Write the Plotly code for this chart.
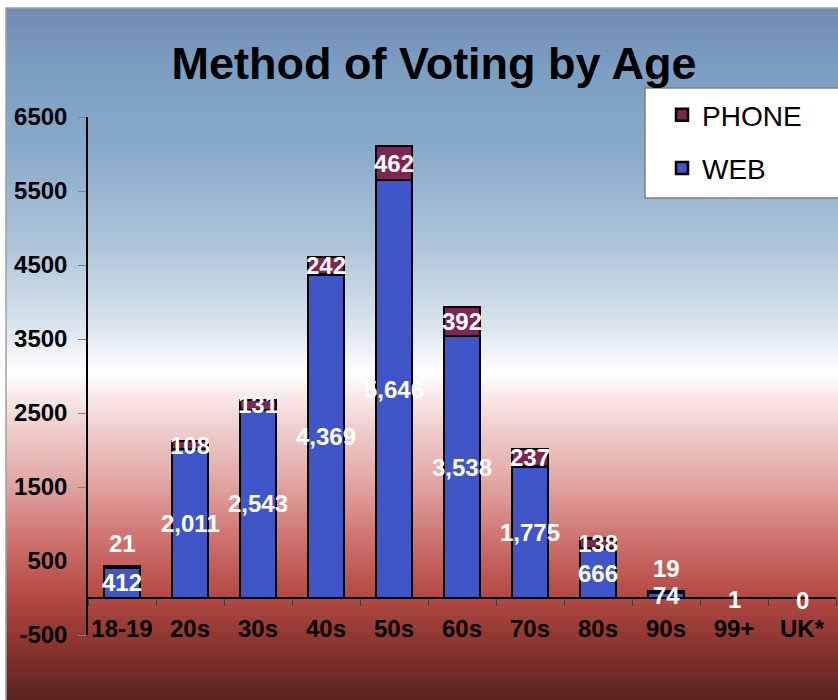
import plotly.graph_objects as go

# ---- data ----
categories = ["18-19", "20s", "30s", "40s", "50s", "60s", "70s", "80s", "90s", "99+", "UK*"]
web_votes = [412, 2011, 2543, 4369, 5646, 3538, 1775, 666, 74, 1, 0]
phone_votes = [21, 108, 131, 242, 462, 392, 237, 138, 19, 0, 0]
y_tick_values = [-500, 500, 1500, 2500, 3500, 4500, 5500, 6500]

# ---- layout geometry (pixels) ----
W, H = 838, 700
ML, MR, MT, MB = 88, 2, 117, 65
PW, PH = W - ML - MR, H - MT - MB
Y_MIN, Y_MAX = -500, 6500

def px_x(px):
    return (px - ML) / PW

def px_y(py):
    return (H - MB - py) / PH

FONT = "Liberation Sans, Arial, sans-serif"
WEB_COLOR = "#3f55c8"
PHONE_COLOR = "#7d2553"

fig = go.Figure()
fig.add_trace(go.Bar(
    x=categories, y=web_votes, name="WEB", legendgroup="web", legendrank=2,
    marker=dict(color=WEB_COLOR, line=dict(color="black", width=2.5)),
    width=0.53, hoverinfo="skip",
))
fig.add_trace(go.Bar(
    x=categories, y=phone_votes, name="PHONE", legendgroup="phone", legendrank=1,
    marker=dict(color=PHONE_COLOR, line=dict(color="black", width=2.5)),
    width=0.53, hoverinfo="skip",
))

# ---- background gradient (styling) ----
stops = [
    (8, (112, 138, 182)),
    (60, (122, 156, 191)),
    (150, (136, 170, 202)),
    (250, (176, 198, 218)),
    (330, (220, 230, 238)),
    (372, (255, 255, 255)),
    (420, (242, 212, 212)),
    (480, (226, 168, 166)),
    (540, (206, 114, 110)),
    (595, (180, 74, 68)),
    (645, (138, 52, 46)),
    (700, (90, 36, 32)),
]

def color_at(py):
    for (a, ca), (b, cb) in zip(stops[:-1], stops[1:]):
        if a <= py <= b:
            t = (py - a) / (b - a)
            c = [round(ca[i] + (cb[i] - ca[i]) * t) for i in range(3)]
            return f"rgb({c[0]},{c[1]},{c[2]})"
    return f"rgb{stops[-1][1]}"

shapes = []
step = 4
py = 8
while py < H:
    shapes.append(dict(
        type="rect", xref="paper", yref="paper", layer="below",
        x0=px_x(6), x1=px_x(W + 2), y0=px_y(py + step + 1), y1=px_y(py),
        fillcolor=color_at(py + step / 2), line=dict(width=0),
    ))
    py += step
# outer border
shapes.append(dict(
    type="rect", xref="paper", yref="paper", layer="below",
    x0=px_x(6), x1=px_x(W + 5), y0=px_y(H + 5), y1=px_y(8),
    fillcolor="rgba(0,0,0,0)", line=dict(color="#a0a0a0", width=1.5),
))
# legend box
shapes.append(dict(
    type="rect", xref="paper", yref="paper", layer="above",
    x0=px_x(645), x1=px_x(W + 5), y0=px_y(198), y1=px_y(88),
    fillcolor="white", line=dict(color="#808080", width=1.5),
))

# ---- data labels ----
annotations = []
for cat, w, p in zip(categories, web_votes, phone_votes):
    annotations.append(dict(
        x=cat, y=w / 2, xref="x", yref="y", text=f"{w:,}", showarrow=False,
        yshift=-2 if w < 50 else 0,
        font=dict(family=FONT, size=24, color="white", weight="bold"),
    ))
    if p > 0:
        annotations.append(dict(
            x=cat, y=w + p / 2, xref="x", yref="y", text=f"{p:,}", showarrow=False,
            yshift=23 if w < 500 else 0,
            font=dict(family=FONT, size=24, color="white", weight="bold"),
        ))

zero_pos = (0 - Y_MIN) / (Y_MAX - Y_MIN)

fig.update_layout(
    width=W, height=H,
    margin=dict(l=ML, r=MR, t=MT, b=MB, pad=0),
    paper_bgcolor="white", plot_bgcolor="rgba(0,0,0,0)",
    barmode="stack", bargap=0.47,
    title=dict(
        text="Method of Voting by Age", x=434 / W, xanchor="center",
        y=1 - 63 / H, yanchor="middle", xref="container", yref="container",
        font=dict(family=FONT, size=45, color="black", weight="bold"),
    ),
    font=dict(family=FONT, color="black"),
    showlegend=True,
    legend=dict(
        x=px_x(662), y=px_y(90), xanchor="left", yanchor="top",
        bgcolor="rgba(0,0,0,0)", borderwidth=0,
        traceorder="grouped", tracegroupgap=14,
        font=dict(family=FONT, size=28, color="black"),
    ),
    xaxis=dict(
        type="category", range=[-0.5, len(categories) - 0.5],
        anchor="free", position=zero_pos,
        showline=True, linecolor="black", linewidth=1.5,
        ticks="outside", tickson="boundaries", ticklen=7, tickcolor="#404040",
        tickangle=0,
        tickfont=dict(family=FONT, size=24, color="black", weight="bold"),
        showgrid=False, zeroline=False, ticklabelstandoff=9,
    ),
    yaxis=dict(
        range=[Y_MIN, Y_MAX], tickmode="array", tickvals=y_tick_values,
        ticktext=[str(v) for v in y_tick_values],
        showline=True, linecolor="black", linewidth=1.5,
        ticks="outside", ticklen=8, tickcolor="#808080",
        tickfont=dict(family=FONT, size=24, color="black", weight="bold"),
        showgrid=False, zeroline=False, ticklabelstandoff=6,
    ),
    shapes=shapes,
    annotations=annotations,
)

fig.write_html("out.html")
